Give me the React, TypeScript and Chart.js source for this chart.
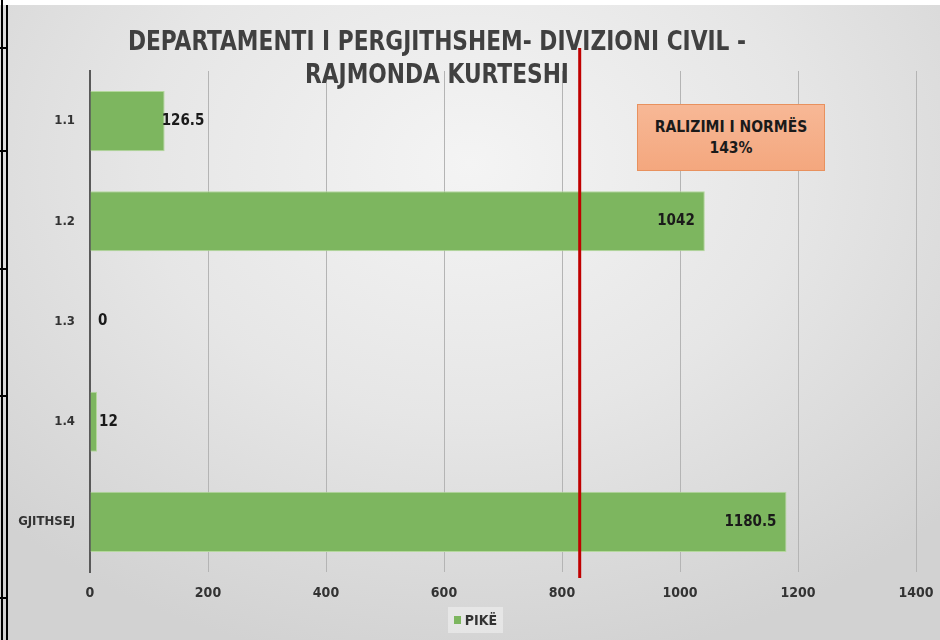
import React, { useEffect, useRef } from "react";
import { Chart, registerables } from "chart.js";

Chart.register(...registerables);

const categories = ["1.1", "1.2", "1.3", "1.4", "GJITHSEJ"];
const values = [126.5, 1042, 0, 12, 1180.5];
const valueLabels = ["126.5", "1042", "0", "12", "1180.5"];
const seriesName = "PIKË";
const targetValue = 830;
const xTicks = [0, 200, 400, 600, 800, 1000, 1200, 1400];
const titleLines = ["DEPARTAMENTI I PERGJITHSHEM- DIVIZIONI CIVIL -", "RAJMONDA KURTESHI"];
const noteLines = ["RALIZIMI I NORMËS", "143%"];

const FONT = "'DejaVu Sans Condensed', 'Open Sans', sans-serif";

export default function App() {
  const ref = useRef<HTMLCanvasElement | null>(null);

  useEffect(() => {
    const canvas = ref.current;
    if (!canvas) return;

    const labelPlugin = {
      id: "valueLabels",
      afterDatasetsDraw(chart: any) {
        const ctx = chart.ctx;
        const meta = chart.getDatasetMeta(0);
        ctx.save();
        ctx.font = `bold 15px ${FONT}`;
        ctx.fillStyle = "#1a1a1a";
        ctx.textBaseline = "middle";
        meta.data.forEach((bar: any, i: number) => {
          const base = bar.base;
          const w = bar.x - base;
          const text = valueLabels[i];
          if (w > 200) {
            ctx.textAlign = "right";
            ctx.fillText(text, bar.x - 10, bar.y);
          } else if (w > 30) {
            ctx.textAlign = "left";
            ctx.fillText(text, bar.x - 3, bar.y);
          } else {
            ctx.textAlign = "left";
            ctx.fillText(text, Math.max(bar.x + 2, base + 8), bar.y);
          }
        });
        ctx.restore();
      },
    };

    const targetPlugin = {
      id: "targetLine",
      afterDatasetsDraw(chart: any) {
        const ctx = chart.ctx;
        const x = chart.scales.x.getPixelForValue(targetValue);
        const area = chart.chartArea;
        ctx.save();
        ctx.strokeStyle = "#c00000";
        ctx.lineWidth = 3;
        ctx.beginPath();
        ctx.moveTo(x, area.top - 23);
        ctx.lineTo(x, area.bottom + 6);
        ctx.stroke();
        ctx.restore();
      },
    };

    const chart = new Chart(canvas, {
      type: "bar",
      data: {
        labels: categories,
        datasets: [
          {
            label: seriesName,
            data: values,
            backgroundColor: "#7db65f",
            borderColor: "#b4d89c",
            borderWidth: 1,
            barPercentage: 0.6,
            categoryPercentage: 1,
          },
        ],
      },
      options: {
        indexAxis: "y",
        responsive: false,
        animation: false,
        devicePixelRatio: 1,
        layout: { padding: { top: 71, right: 24, bottom: 28, left: 0 } },
        plugins: {
          legend: { display: false },
          title: { display: false },
          tooltip: { enabled: false },
        },
        scales: {
          x: {
            min: 0,
            max: 1400,
            afterBuildTicks(scale: any) {
              scale.ticks = xTicks.map((v) => ({ value: v }));
            },
            afterFit(scale: any) {
              scale.height = 40;
              scale.paddingRight = 0;
              scale.paddingLeft = 0;
            },
            grid: { color: "#b4b4b4", lineWidth: 1, drawTicks: false },
            border: { display: false },
            ticks: {
              padding: 13,
              color: "#333333",
              font: { family: FONT, size: 14, weight: "bold" },
              callback: (v: any) => String(v),
            },
          },
          y: {
            afterFit(scale: any) {
              scale.width = 90;
            },
            grid: { display: false },
            border: { display: true, color: "#595959", width: 2 },
            ticks: {
              padding: 7,
              color: "#333333",
              font: { family: FONT, size: 13, weight: "bold" },
            },
          },
        },
      } as any,
      plugins: [labelPlugin, targetPlugin],
    });

    return () => chart.destroy();
  }, []);

  const leftTicks = [47, 150, 268, 395, 597];

  return (
    <div
      style={{
        position: "fixed",
        left: 0,
        top: 0,
        width: 940,
        height: 640,
        overflow: "hidden",
        background: "#ffffff",
      }}
    >
      <div
        style={{
          position: "absolute",
          left: 0,
          top: 5,
          width: 940,
          height: 635,
          background:
            "radial-gradient(ellipse 70% 80% at 50% 25%, #f4f4f4 0%, #e6e6e6 50%, #d2d2d2 100%)",
        }}
      />
      <div style={{ position: "absolute", left: 1, top: 0, width: 2, height: 640, background: "#000" }} />
      <div style={{ position: "absolute", left: 6, top: 5, width: 1.5, height: 635, background: "#000" }} />
      {leftTicks.map((y) => (
        <div key={y} style={{ position: "absolute", left: 0, top: y, width: 7, height: 2, background: "#000" }} />
      ))}
      <canvas
        ref={ref}
        width={940}
        height={640}
        style={{ position: "absolute", left: 0, top: 0, width: 940, height: 640 }}
      />
      <div
        style={{
          position: "absolute",
          left: 0,
          top: 25,
          width: 874,
          textAlign: "center",
          fontFamily: FONT,
          fontWeight: "bold",
          fontSize: 26,
          lineHeight: "33px",
          color: "#404040",
          transform: "scaleX(0.93)",
          transformOrigin: "437px 0",
        }}
      >
        {titleLines.map((t) => (
          <div key={t}>{t}</div>
        ))}
      </div>
      <div
        style={{
          position: "absolute",
          left: 637,
          top: 104,
          width: 188,
          height: 67,
          boxSizing: "border-box",
          border: "1px solid #e8915e",
          background: "linear-gradient(#f7b896, #f4a77e)",
          display: "flex",
          flexDirection: "column",
          justifyContent: "center",
          alignItems: "center",
          fontFamily: FONT,
          fontWeight: "bold",
          fontSize: 15.5,
          lineHeight: "21px",
          color: "#1a1a1a",
        }}
      >
        {noteLines.map((t) => (
          <div key={t}>{t}</div>
        ))}
      </div>
      <div
        style={{
          position: "absolute",
          left: 448,
          top: 607,
          width: 55,
          height: 26,
          background: "rgba(240,240,240,0.6)",
          display: "flex",
          alignItems: "center",
          justifyContent: "center",
          fontFamily: FONT,
          fontWeight: "bold",
          fontSize: 14,
          color: "#333333",
        }}
      >
        <span style={{ display: "inline-block", width: 7, height: 8, background: "#7db65f", marginRight: 4 }} />
        {seriesName}
      </div>
    </div>
  );
}
